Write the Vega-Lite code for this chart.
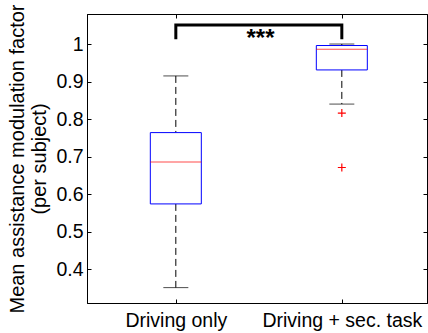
{
  "$schema": "https://vega.github.io/schema/vega-lite/v6.json",
  "width": 340,
  "height": 289,
  "autosize": {"type": "none"},
  "padding": {"left": 87, "top": 14, "right": 1, "bottom": 30},
  "background": "white",
  "config": {
    "view": {"stroke": "black", "strokeWidth": 1},
    "font": "Liberation Sans",
    "axis": {
      "grid": false,
      "tickColor": "black",
      "domainColor": "black",
      "labelColor": "black",
      "titleColor": "black",
      "labelFont": "Liberation Sans",
      "titleFont": "Liberation Sans",
      "labelFontSize": 19.5,
      "titleFontSize": 20,
      "titleFontWeight": "normal",
      "tickSize": -4,
      "labelOverlap": false,
      "labelFlush": false,
      "labelBound": false
    }
  },
  "datasets": {
    "boxes": [
      {"g": 1, "lo": 0.351, "q1": 0.574, "med": 0.686, "q3": 0.764, "hi": 0.915},
      {"g": 2, "lo": 0.84, "q1": 0.931, "med": 0.986, "q3": 0.996, "hi": 1.0}
    ],
    "outliers": [
      {"g": 2, "v": 0.816},
      {"g": 2, "v": 0.671}
    ],
    "bracket": [
      {"g": 1, "v": 1.013, "o": 0},
      {"g": 1, "v": 1.051, "o": 1},
      {"g": 2, "v": 1.051, "o": 2},
      {"g": 2, "v": 1.013, "o": 3}
    ],
    "sig": [
      {"g": 1.51, "v": 0.996, "t": "***"}
    ]
  },
  "resolve": {"axis": {"x": "independent", "y": "independent"}},
  "layer": [
    {
      "data": {"name": "boxes"},
      "mark": {"type": "rule", "stroke": "black", "strokeWidth": 1, "strokeDash": [7, 4]},
      "encoding": {
        "x": {"field": "g", "type": "quantitative", "scale": {"domain": [0.495, 2.483], "nice": false, "zero": false},
          "axis": {"values": [1, 2], "title": null, "labelExpr": "datum.value == 1 ? 'Driving only' : 'Driving + sec. task'", "labelPadding": 12}},
        "y": {"field": "hi", "type": "quantitative", "scale": {"domain": [0.31, 1.08], "nice": false, "zero": false},
          "axis": {"values": [0.4, 0.5, 0.6, 0.7, 0.8, 0.9, 1], "format": "~g", "labelPadding": 8,
            "title": ["Mean assistance modulation factor", "(per subject)"], "titleLineHeight": 22,
            "titleBaseline": "alphabetic", "titleX": -64, "titleY": 144.5, "titleAngle": -90}},
        "y2": {"field": "q3"}
      }
    },
    {
      "data": {"name": "boxes"},
      "mark": {"type": "rule", "stroke": "black", "strokeWidth": 1, "strokeDash": [7, 4]},
      "encoding": {
        "x": {"field": "g", "type": "quantitative", "axis": null},
        "y": {"field": "q1", "type": "quantitative", "axis": null},
        "y2": {"field": "lo"}
      }
    },
    {
      "data": {"name": "boxes"},
      "mark": {"type": "tick", "orient": "horizontal", "color": "black", "size": 25, "thickness": 1},
      "encoding": {
        "x": {"field": "g", "type": "quantitative", "axis": null},
        "y": {"field": "hi", "type": "quantitative", "axis": null}
      }
    },
    {
      "data": {"name": "boxes"},
      "mark": {"type": "tick", "orient": "horizontal", "color": "black", "size": 25, "thickness": 1},
      "encoding": {
        "x": {"field": "g", "type": "quantitative", "axis": null},
        "y": {"field": "lo", "type": "quantitative", "axis": null}
      }
    },
    {
      "data": {"name": "boxes"},
      "mark": {"type": "bar", "width": 51, "fill": "white", "stroke": "#0000ff", "strokeWidth": 1},
      "encoding": {
        "x": {"field": "g", "type": "quantitative", "axis": null},
        "y": {"field": "q1", "type": "quantitative", "axis": null},
        "y2": {"field": "q3"}
      }
    },
    {
      "data": {"name": "boxes"},
      "mark": {"type": "tick", "orient": "horizontal", "color": "#ff0000", "size": 51, "thickness": 1},
      "encoding": {
        "x": {"field": "g", "type": "quantitative", "axis": {"orient": "top", "values": [1, 2], "labels": false, "title": null}},
        "y": {"field": "med", "type": "quantitative", "axis": {"orient": "right", "values": [0.4, 0.5, 0.6, 0.7, 0.8, 0.9, 1], "labels": false, "title": null}}
      }
    },
    {
      "data": {"name": "outliers"},
      "mark": {"type": "point", "shape": "M-1,0L1,0M0,-1L0,1", "filled": false, "color": "#ff0000", "stroke": "#ff0000", "strokeWidth": 1.2, "size": 64, "opacity": 1},
      "encoding": {
        "x": {"field": "g", "type": "quantitative", "axis": null},
        "y": {"field": "v", "type": "quantitative", "axis": null}
      }
    },
    {
      "data": {"name": "bracket"},
      "mark": {"type": "line", "color": "black", "strokeWidth": 3, "strokeCap": "butt", "strokeJoin": "miter"},
      "encoding": {
        "x": {"field": "g", "type": "quantitative", "axis": null},
        "y": {"field": "v", "type": "quantitative", "axis": null},
        "order": {"field": "o", "type": "quantitative"}
      }
    },
    {
      "data": {"name": "sig"},
      "mark": {"type": "text", "color": "black", "fontSize": 24, "fontWeight": "bold", "baseline": "alphabetic", "align": "center", "font": "Liberation Sans"},
      "encoding": {
        "x": {"field": "g", "type": "quantitative", "axis": null},
        "y": {"field": "v", "type": "quantitative", "axis": null},
        "text": {"field": "t"}
      }
    }
  ]
}
